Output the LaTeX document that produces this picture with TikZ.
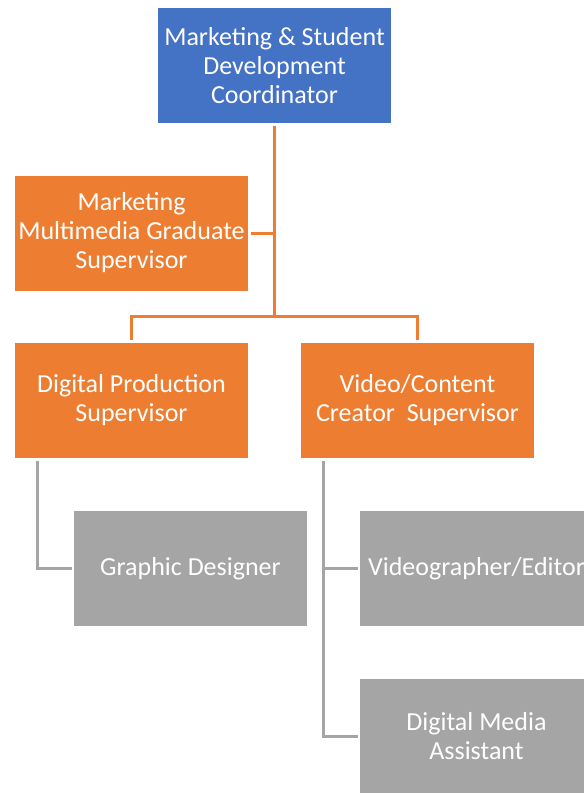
\documentclass[tikz,border=0pt]{standalone}
\usepackage{fontspec}
\setmainfont{Carlito}
\usepackage{tikz}
\usetikzlibrary{calc}

\definecolor{headblue}{HTML}{4472C4}
\definecolor{suporange}{HTML}{ED7D31}
\definecolor{staffgray}{HTML}{A5A5A5}

\begin{document}
\begin{tikzpicture}[x=1pt,y=1pt,
    orgbox/.style={minimum width=233pt,minimum height=115pt,
        align=center,text=white,inner sep=0pt,
        font=\fontsize{26}{29}\selectfont},
    headbox/.style={orgbox,fill=headblue},
    supbox/.style={orgbox,fill=suporange},
    staffbox/.style={orgbox,fill=staffgray},
    supline/.style={draw=suporange,line width=3pt},
    staffline/.style={draw=staffgray,line width=3pt}]
    % page size (pixels of the reference)
    \useasboundingbox (0,0) rectangle (584,-793);

    % top level
    \node[headbox] (coord) at (274.5,-65.5) {Marketing \& Student\\Development\\Coordinator};

    % assistant on the left of the trunk
    \node[supbox] (mmgs) at (131.5,-233) {Marketing\\Multimedia Graduate\\Supervisor};

    % supervisors
    \node[supbox] (dps) at (131.5,-400.5) {Digital Production\\Supervisor};
    \node[supbox] (vcs) at (417.5,-400.5) {Video/Content\\Creator\ \ Supervisor};

    % staff
    \node[staffbox] (gd)  at (190.5,-568.5) {Graphic Designer};
    \node[staffbox] (ve)  at (476.5,-568.5) {Videographer/Editor};
    \node[staffbox] (dma) at (476.5,-736) {Digital Media\\Assistant};

    % junctions
    \coordinate (trunk) at (274.5,-316);
    \coordinate (leftrail) at (37,-461);
    \coordinate (rightrail) at (323,-461);

    % orange connectors
    \draw[supline] ([yshift=-3pt]coord.south) -- (trunk);
    \draw[supline,shorten <=3pt] (mmgs.east) -- (mmgs.east -| trunk);
    \draw[supline,shorten >=3pt] (trunk) -| (dps.north);
    \draw[supline,shorten >=3pt] (trunk) -| (vcs.north);

    % gray connectors
    \draw[staffline,shorten >=2pt] (leftrail) |- (gd.west);
    \draw[staffline,shorten >=2pt] (rightrail) |- (dma.west);
    \draw[staffline,shorten >=2pt] (ve.west -| rightrail) -- (ve.west);
\end{tikzpicture}
\end{document}
